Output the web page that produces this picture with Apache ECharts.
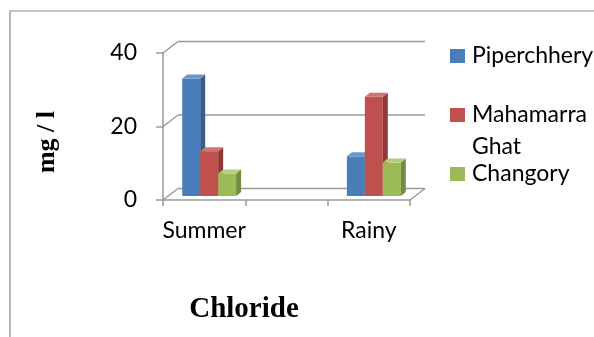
<!DOCTYPE html>
<html>
<head>
<meta charset="utf-8">
<script src="https://cdn.jsdelivr.net/npm/echarts@6/dist/echarts.min.js"></script>
<style>
html,body{margin:0;padding:0;background:#fff;}
#chart{width:594px;height:337px;}
</style>
</head>
<body>
<div id="chart"></div>
<script>
// ---- data ----
const categories = ['Summer', '', 'Rainy'];
const seriesNames = ['Piperchhery', 'Mahamarra Ghat', 'Changory'];
const piperchhery = [32, null, 10.8];
const mahamarraGhat = [12.2, null, 27];
const changory = [6.1, null, 9.1];
const yTicks = [0, 20, 40];
const chartTitle = 'Chloride';
const yAxisTitle = 'mg / l';

// ---- styling ----
const faceColors = [
  { front: '#4A7EBB', side: '#375E8E', top: '#6C97CC' },
  { front: '#C0504D', side: '#8F3A38', top: '#D07472' },
  { front: '#9BBB59', side: '#718B40', top: '#B3CD7B' }
];
const WALL_DX = 15, WALL_DY = -11.5;
const BAR_DX = 5, BAR_DY = -4;
const BAR_SHIFT_X = 5, BAR_SHIFT_Y = -4;
const BAR_FRAC = 18 / 82.5;
const lineCol = '#9a9a9a';

function toData(arr) {
  const out = [];
  arr.forEach((v, i) => { if (v !== null) out.push([i, v]); });
  return out;
}

function renderFrame(params, api) {
  const cs = params.coordSys;
  const v = api.value(1);
  const y = api.coord([0, v])[1];
  const x0 = cs.x, x1 = cs.x + cs.width;
  const st = { stroke: lineCol, lineWidth: 1.5 };
  const children = [
    { type: 'line', shape: { x1: x0, y1: y, x2: x0 + WALL_DX, y2: y + WALL_DY }, style: st },
    { type: 'line', shape: { x1: x0 + WALL_DX, y1: y + WALL_DY, x2: x1 + WALL_DX, y2: y + WALL_DY }, style: st }
  ];
  if (v === 0) {
    children.push({ type: 'line', shape: { x1: x1, y1: y, x2: x1 + WALL_DX, y2: y + WALL_DY }, style: st });
  }
  return { type: 'group', children: children };
}

function makeBarRenderer(k) {
  return function (params, api) {
    const ci = api.value(0), v = api.value(1);
    const band = api.size([1, 0])[0];
    const bw = band * BAR_FRAC;
    const c0 = api.coord([ci, 0]);
    const c1 = api.coord([ci, v]);
    const xl = c0[0] - 1.5 * bw + k * bw + BAR_SHIFT_X;
    const xr = xl + bw;
    const yb = c0[1] + BAR_SHIFT_Y;
    const yt = c1[1] + BAR_SHIFT_Y;
    const c = faceColors[k];
    return {
      type: 'group',
      children: [
        { type: 'polygon', shape: { points: [[xl, yt], [xr, yt], [xr, yb], [xl, yb]] }, style: { fill: c.front } },
        { type: 'polygon', shape: { points: [[xr, yt], [xr + BAR_DX, yt + BAR_DY], [xr + BAR_DX, yb + BAR_DY], [xr, yb]] }, style: { fill: c.side } },
        { type: 'polygon', shape: { points: [[xl, yt], [xl + BAR_DX, yt + BAR_DY], [xr + BAR_DX, yt + BAR_DY], [xr, yt]] }, style: { fill: c.top } }
      ]
    };
  };
}

const seriesValues = [piperchhery, mahamarraGhat, changory];

const chart = echarts.init(document.getElementById('chart'), null, { renderer: 'canvas' });
const option = {
  backgroundColor: '#fff',
  animation: false,
  grid: { left: 163, top: 53, width: 247, height: 147 },
  xAxis: {
    type: 'category',
    data: categories,
    boundaryGap: true,
    axisLine: { show: true, lineStyle: { color: lineCol, width: 1.5 } },
    axisTick: { show: true, alignWithLabel: false, length: 6, interval: 0, lineStyle: { color: lineCol, width: 1.5 } },
    axisLabel: { interval: 0, margin: 19, fontFamily: 'Lato', fontSize: 23, color: '#000' },
    splitLine: { show: false }
  },
  yAxis: {
    type: 'value',
    min: yTicks[0],
    max: yTicks[yTicks.length - 1],
    interval: yTicks[1] - yTicks[0],
    axisLine: { show: true, lineStyle: { color: lineCol, width: 1.5 } },
    axisTick: { show: true, length: 7, lineStyle: { color: lineCol, width: 1.5 } },
    axisLabel: { margin: 26, fontFamily: 'Lato', fontSize: 23, color: '#000' },
    splitLine: { show: false }
  },
  legend: {
    orient: 'vertical',
    left: 450,
    top: 40,
    padding: 0,
    itemWidth: 15,
    itemHeight: 14,
    itemGap: -5,
    icon: 'rect',
    selectedMode: false,
    data: seriesNames,
    formatter: function (n) { return n === 'Mahamarra Ghat' ? ' \nMahamarra\nGhat' : n; },
    textStyle: { fontFamily: 'Lato', fontSize: 23, lineHeight: 32, color: '#000', padding: [0, 0, 0, 2] }
  },
  graphic: [
    { type: 'rect', shape: { x: 10, y: 11, width: 700, height: 500 }, style: { fill: 'none', stroke: '#8c8c8c', lineWidth: 1.2 }, z: -10 },
    { type: 'text', x: 244, y: 310, style: { text: chartTitle, font: 'bold 29px "Liberation Serif"', fill: '#000', textAlign: 'center', textVerticalAlign: 'middle' } },
    { type: 'text', x: 47, y: 142, rotation: Math.PI / 2, style: { text: yAxisTitle, font: 'bold 26px "Liberation Serif"', fill: '#000', textAlign: 'center', textVerticalAlign: 'middle' } }
  ],
  series: [
    {
      type: 'custom', name: 'frame', silent: true, z: 1,
      renderItem: renderFrame,
      data: yTicks.map(v => [0, v])
    }
  ].concat(seriesValues.map((arr, k) => ({
    type: 'custom',
    name: seriesNames[k],
    z: 2,
    itemStyle: { color: faceColors[k].front },
    renderItem: makeBarRenderer(k),
    encode: { x: 0, y: 1 },
    data: toData(arr)
  })))
};
chart.setOption(option);
</script>
</body>
</html>
